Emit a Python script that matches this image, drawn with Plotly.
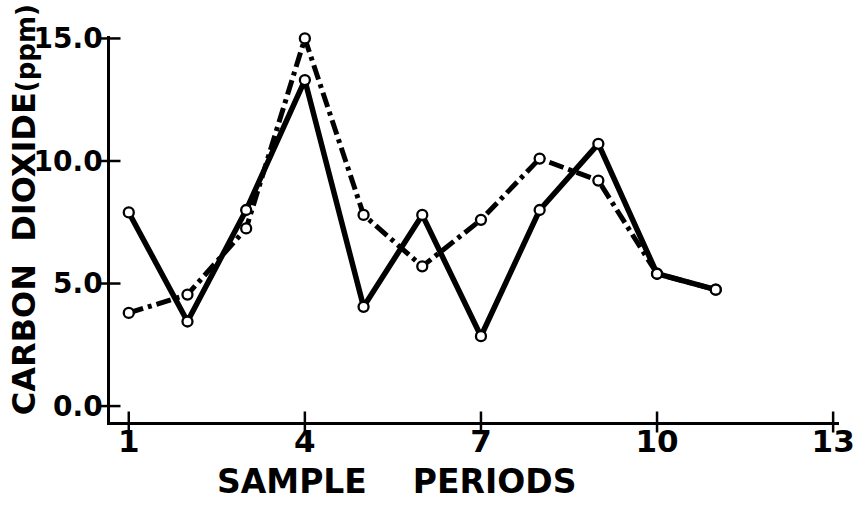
import plotly.graph_objects as go

# Data
periods = [1, 2, 3, 4, 5, 6, 7, 8, 9, 10, 11]
solid_co2 = [7.9, 3.45, 8.0, 13.3, 4.05, 7.8, 2.85, 8.0, 10.7, 5.4, 4.75]
dashed_co2 = [3.8, 4.55, 7.25, 15.0, 7.8, 5.7, 7.6, 10.1, 9.2, 5.4, 4.75]

x_ticks = [1, 4, 7, 10, 13]
x_tick_labels = ["1", "4", "7", "10", "13"]
y_ticks = [0, 5, 10, 15]
y_tick_labels = ["0.0", "5.0", "10.0", "15.0"]

X_RANGE = [0.68, 13.1]
Y_RANGE = [-0.65, 15.1]

fig = go.Figure()

# lines
fig.add_trace(go.Scatter(x=periods, y=solid_co2, mode="lines",
                         line=dict(color="black", width=5.5), cliponaxis=False,
                         showlegend=False, hoverinfo="skip"))
fig.add_trace(go.Scatter(x=periods, y=dashed_co2, mode="lines",
                         line=dict(color="black", width=5, dash="15px,5px,4px,5px"),
                         cliponaxis=False, showlegend=False, hoverinfo="skip"))
# markers on top
for ys in (solid_co2, dashed_co2):
    fig.add_trace(go.Scatter(x=periods, y=ys, mode="markers", cliponaxis=False,
                             marker=dict(symbol="circle", size=10, color="white",
                                         line=dict(color="black", width=2.3)),
                             showlegend=False))

# cross tick marks on the axes
fig.add_trace(go.Scatter(x=x_ticks, y=[Y_RANGE[0]] * len(x_ticks), mode="markers",
                         cliponaxis=False, showlegend=False, hoverinfo="skip",
                         marker=dict(symbol="line-ns-open", size=15, color="black",
                                     line=dict(color="black", width=2.5))))
fig.add_trace(go.Scatter(x=[X_RANGE[0]] * len(y_ticks), y=y_ticks, mode="markers",
                         cliponaxis=False, showlegend=False, hoverinfo="skip",
                         marker=dict(symbol="line-ew-open", size=15, color="black",
                                     line=dict(color="black", width=2.5))))

fig.update_layout(
    width=867, height=508,
    margin=dict(l=110, r=28, t=36, b=86),
    plot_bgcolor="white", paper_bgcolor="white",
    xaxis=dict(range=X_RANGE, tickvals=x_ticks, ticktext=x_tick_labels,
               showgrid=False, zeroline=False, showline=True, linecolor="black",
               linewidth=2.5, ticks="", ticklabelstandoff=-10,
               tickfont=dict(family="DejaVu Sans", size=31, color="black", weight="bold")),
    yaxis=dict(range=Y_RANGE, tickvals=y_ticks, ticktext=y_tick_labels,
               showgrid=False, zeroline=False, showline=True, linecolor="black",
               linewidth=2.5, ticks="", ticklabelstandoff=-1, automargin=False,
               tickfont=dict(family="DejaVu Sans", size=28, color="black",
                             weight=900)),
    annotations=[
        dict(text="SAMPLE\u00a0\u00a0\u00a0\u00a0PERIODS", xref="paper", yref="paper",
             x=0.394, y=-0.155, xanchor="center", yanchor="middle", showarrow=False,
             font=dict(family="DejaVu Sans", size=33, color="black", weight="bold")),
        dict(text="CARBON\u00a0\u00a0DIOXIDE<span style='font-size:26px'>(ppm)</span>",
             xref="paper", yref="paper", x=-0.118, y=0.551, textangle=-90,
             xanchor="center", yanchor="middle", showarrow=False,
             font=dict(family="DejaVu Sans", size=32, color="black", weight="bold")),
    ],
)

fig.write_html("out.html")
